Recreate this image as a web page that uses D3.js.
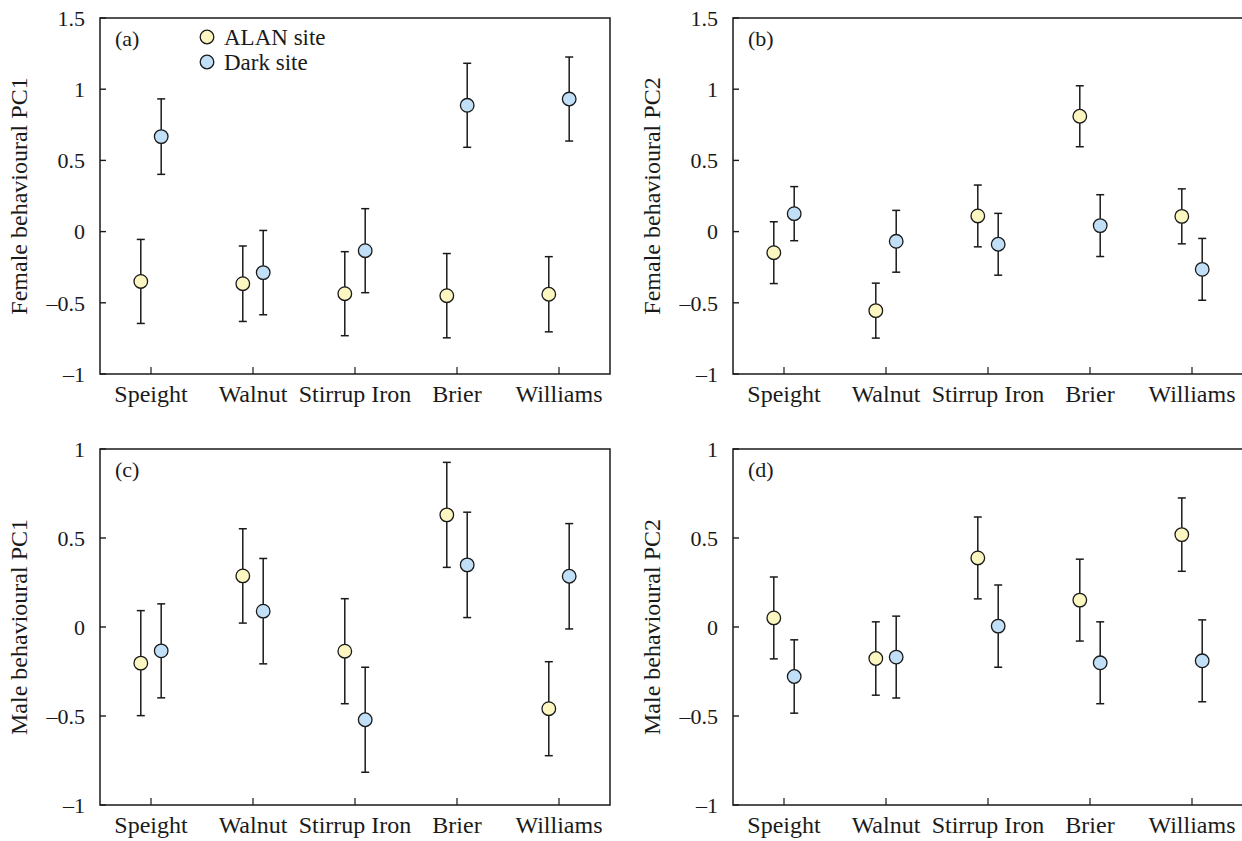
<!DOCTYPE html>
<html>
<head>
<meta charset="utf-8">
<script src="https://cdn.jsdelivr.net/npm/d3@7"></script>
<style>
  body { margin: 0; background: #fff; }
  svg { display: block; }
  text { font-family: "Liberation Serif", "Times New Roman", serif; fill: #1a1a1a; }
</style>
</head>
<body>
<div id="chart"></div>
<script>
// sites along the x axis
const sites = ["Speight", "Walnut", "Stirrup Iron", "Brier", "Williams"];

// (a) female PC1
const femPC1Alan    = [-0.35, -0.366, -0.436, -0.45, -0.44];
const femPC1AlanErr = [0.295, 0.265, 0.295, 0.296, 0.264];
const femPC1Dark    = [0.667, -0.288, -0.134, 0.887, 0.931];
const femPC1DarkErr = [0.265, 0.296, 0.295, 0.295, 0.295];

// (b) female PC2
const femPC2Alan    = [-0.148, -0.555, 0.11, 0.81, 0.107];
const femPC2AlanErr = [0.217, 0.193, 0.217, 0.214, 0.193];
const femPC2Dark    = [0.126, -0.068, -0.089, 0.042, -0.265];
const femPC2DarkErr = [0.19, 0.217, 0.217, 0.217, 0.217];

// (c) male PC1
const malePC1Alan    = [-0.203, 0.287, -0.136, 0.63, -0.459];
const malePC1AlanErr = [0.295, 0.265, 0.295, 0.295, 0.264];
const malePC1Dark    = [-0.134, 0.089, -0.521, 0.349, 0.285];
const malePC1DarkErr = [0.264, 0.296, 0.295, 0.296, 0.296];

// (d) male PC2
const malePC2Alan    = [0.051, -0.177, 0.388, 0.151, 0.519];
const malePC2AlanErr = [0.23, 0.206, 0.23, 0.23, 0.206];
const malePC2Dark    = [-0.278, -0.169, 0.005, -0.201, -0.19];
const malePC2DarkErr = [0.206, 0.23, 0.231, 0.23, 0.23];

const ticksTop = [-1, -0.5, 0, 0.5, 1, 1.5];
const ticksBottom = [-1, -0.5, 0, 0.5, 1];

const alanFill = "#fcf7c1",
      darkFill = "#c1dff6";

const panelW = 510, panelH = 356;

const panels = [
  {tag: "(a)", title: "Female behavioural PC1", left: 100, top: 18, domain: [-1, 1.5], ticks: ticksTop,
   alan: femPC1Alan, alanErr: femPC1AlanErr, dark: femPC1Dark, darkErr: femPC1DarkErr, legend: true},
  {tag: "(b)", title: "Female behavioural PC2", left: 733, top: 18, domain: [-1, 1.5], ticks: ticksTop,
   alan: femPC2Alan, alanErr: femPC2AlanErr, dark: femPC2Dark, darkErr: femPC2DarkErr},
  {tag: "(c)", title: "Male behavioural PC1", left: 100, top: 449, domain: [-1, 1], ticks: ticksBottom,
   alan: malePC1Alan, alanErr: malePC1AlanErr, dark: malePC1Dark, darkErr: malePC1DarkErr},
  {tag: "(d)", title: "Male behavioural PC2", left: 733, top: 449, domain: [-1, 1], ticks: ticksBottom,
   alan: malePC2Alan, alanErr: malePC2AlanErr, dark: malePC2Dark, darkErr: malePC2DarkErr}
];

const svg = d3.select("#chart")
  .append("svg")
    .attr("width", 1242)
    .attr("height", 841);

const fmt = v => (v < 0 ? "\u2013" : "") + String(Math.abs(v));

panels.forEach(function(p) {

  const g = svg.append("g")
    .attr("transform", `translate(${p.left},${p.top})`);

  const x = d3.scalePoint()
    .domain(sites)
    .range([0, panelW])
    .padding(0.5);

  const y = d3.scaleLinear()
    .domain(p.domain)
    .range([panelH, 0]);

  const off = x.step() * 0.1;

  // frame
  g.append("rect")
    .attr("width", panelW)
    .attr("height", panelH)
    .attr("fill", "none")
    .attr("stroke", "#1a1a1a")
    .attr("stroke-width", 1.5);

  // y ticks (inward) and labels
  g.selectAll(".ytick")
    .data(p.ticks)
    .join("line")
      .attr("x1", 0).attr("x2", 6)
      .attr("y1", d => y(d)).attr("y2", d => y(d))
      .attr("stroke", "#1a1a1a")
      .attr("stroke-width", 1.4);

  g.selectAll(".ylab")
    .data(p.ticks)
    .join("text")
      .attr("x", -15)
      .attr("y", d => y(d))
      .attr("dy", "0.35em")
      .attr("text-anchor", "end")
      .style("font-size", "22px")
      .text(fmt);

  // x ticks (inward) and labels
  g.selectAll(".xtick")
    .data(sites)
    .join("line")
      .attr("x1", d => x(d)).attr("x2", d => x(d))
      .attr("y1", panelH).attr("y2", panelH - 7)
      .attr("stroke", "#1a1a1a")
      .attr("stroke-width", 1.2);

  g.selectAll(".xlab")
    .data(sites)
    .join("text")
      .attr("x", d => x(d))
      .attr("y", panelH + 28)
      .attr("text-anchor", "middle")
      .style("font-size", "24px")
      .text(d => d);

  // y title
  g.append("text")
    .attr("transform", `translate(${-81},${panelH / 2}) rotate(-90)`)
    .attr("text-anchor", "middle")
    .attr("dy", "0.35em")
    .style("font-size", "24px")
    .text(p.title);

  // panel tag
  g.append("text")
    .attr("x", 15)
    .attr("y", 28)
    .style("font-size", "22px")
    .text(p.tag);

  const series = [
    {mean: p.alan, err: p.alanErr, dx: -off, fill: alanFill},
    {mean: p.dark, err: p.darkErr, dx: off, fill: darkFill}
  ];

  series.forEach(function(s) {
    const rows = sites.map((site, i) => ({site: site, m: s.mean[i], e: s.err[i]}));
    const cx = d => x(d.site) + s.dx;

    const bars = g.append("g");
    bars.append("g").selectAll("line")
      .data(rows)
      .join("line")
        .attr("x1", cx).attr("x2", cx)
        .attr("y1", d => y(d.m - d.e)).attr("y2", d => y(d.m + d.e))
        .attr("stroke", "#1a1a1a").attr("stroke-width", 1.5);
    bars.append("g").selectAll("line")
      .data(rows)
      .join("line")
        .attr("x1", d => cx(d) - 4).attr("x2", d => cx(d) + 4)
        .attr("y1", d => y(d.m + d.e)).attr("y2", d => y(d.m + d.e))
        .attr("stroke", "#1a1a1a").attr("stroke-width", 1.5);
    bars.append("g").selectAll("line")
      .data(rows)
      .join("line")
        .attr("x1", d => cx(d) - 4).attr("x2", d => cx(d) + 4)
        .attr("y1", d => y(d.m - d.e)).attr("y2", d => y(d.m - d.e))
        .attr("stroke", "#1a1a1a").attr("stroke-width", 1.5);

    g.append("g").selectAll("circle")
      .data(rows)
      .join("circle")
        .attr("cx", cx)
        .attr("cy", d => y(d.m))
        .attr("r", 6.8)
        .attr("fill", s.fill)
        .attr("stroke", "#1a1a1a")
        .attr("stroke-width", 1.3);
  });

  // legend only in (a)
  if (p.legend) {
    const leg = g.append("g").attr("transform", "translate(107,19)");
    [["ALAN site", alanFill], ["Dark site", darkFill]].forEach(function(item, i) {
      leg.append("circle")
        .attr("cx", 0).attr("cy", i * 25)
        .attr("r", 6.8)
        .attr("fill", item[1])
        .attr("stroke", "#1a1a1a")
        .attr("stroke-width", 1.3);
      leg.append("text")
        .attr("x", 17).attr("y", i * 25)
        .attr("dy", "0.35em")
        .style("font-size", "23px")
        .text(item[0]);
    });
  }
});
</script>
</body>
</html>
